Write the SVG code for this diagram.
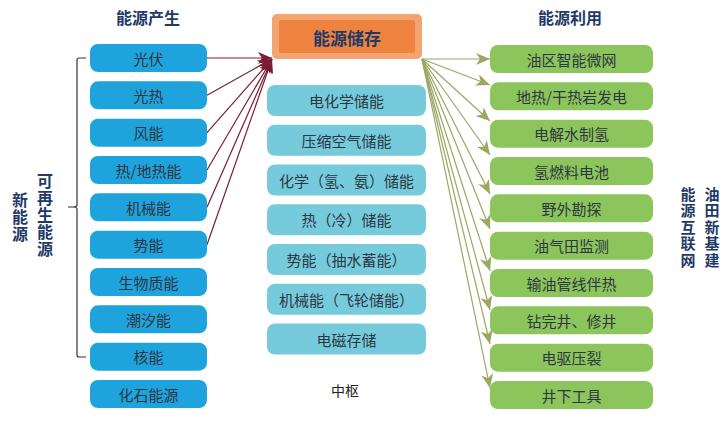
<svg xmlns="http://www.w3.org/2000/svg" width="726" height="421" viewBox="0 0 726 421">
<defs>
<style>
text{font-family:"Noto Sans CJK SC","Noto Sans",sans-serif;}
.t{font-size:15px;fill:#2e3642;text-anchor:middle;dominant-baseline:central;}
.h{font-size:16px;font-weight:bold;fill:#1f3a68;text-anchor:middle;dominant-baseline:central;}
.v{font-size:16px;font-weight:bold;fill:#1f3a68;text-anchor:middle;writing-mode:vertical-rl;letter-spacing:1px;}
.vr{font-size:15px;font-weight:bold;fill:#1f3a68;text-anchor:middle;writing-mode:vertical-rl;letter-spacing:1.5px;}
.blue{fill:#1fa3dd;}
.teal{fill:#75cbdc;}
.green{fill:#8cc55b;}
.lr{stroke:#7a1d36;stroke-width:1.2;fill:none;marker-end:url(#ar);}
.lg{stroke:#9aa862;stroke-width:1.2;fill:none;marker-end:url(#ag);}
</style>
<marker id="ar" markerUnits="userSpaceOnUse" markerWidth="16" markerHeight="12" refX="14" refY="6" orient="auto"><path d="M0,0 L14,6 L0,12 L4,6 z" fill="#7a1d36"/></marker>
<marker id="ag" markerUnits="userSpaceOnUse" markerWidth="16" markerHeight="12" refX="14" refY="6" orient="auto"><path d="M0,0 L14,6 L0,12 L4,6 z" fill="#9aa862"/></marker>
</defs>
<rect width="726" height="421" fill="#ffffff"/>

<text class="h" x="148" y="17">能源产生</text>
<text class="h" x="570" y="17">能源利用</text>

<g id="bracket" fill="none" stroke="#333" stroke-width="1.2">
<path d="M86,58 L79,58 Q77,58 77,60 L77,205 Q77,207 73,207 L68,207 M73,207 Q77,207 77,209 L77,355 Q77,357 79,357 L86,357"/>
</g>
<g id="label-renewable"><text class="v" x="45" y="215">可再生能源</text></g>
<g id="label-new"><text class="v" x="20" y="217">新能源</text></g>
<g id="label-oilfield"><text class="vr" x="712" y="228">油田新基建</text></g>
<g id="label-internet"><text class="vr" x="688" y="228">能源互联网</text></g>

<g id="connectors">
<line class="lr" x1="207" y1="58" x2="272" y2="58"/>
<line class="lr" x1="207" y1="95.3" x2="272" y2="59"/>
<line class="lr" x1="207" y1="132.7" x2="272" y2="59"/>
<line class="lr" x1="207" y1="170" x2="272" y2="59"/>
<line class="lr" x1="207" y1="207.3" x2="272" y2="59"/>
<line class="lr" x1="207" y1="244.7" x2="272" y2="59"/>
<line class="lg" x1="422" y1="59" x2="490" y2="59"/>
<line class="lg" x1="422" y1="59" x2="490" y2="85"/>
<line class="lg" x1="422" y1="59" x2="490" y2="121"/>
<line class="lg" x1="422" y1="59" x2="490" y2="155"/>
<line class="lg" x1="422" y1="59" x2="490" y2="194"/>
<line class="lg" x1="422" y1="59" x2="490" y2="229"/>
<line class="lg" x1="422" y1="59" x2="490" y2="271"/>
<line class="lg" x1="422" y1="59" x2="490" y2="310"/>
<line class="lg" x1="422" y1="59" x2="490" y2="344"/>
<line class="lg" x1="422" y1="59" x2="490" y2="388"/>
</g>

<g id="storage">
<rect x="272" y="14" width="150" height="45" rx="5" fill="#f4a470"/>
<rect x="279" y="20" width="136" height="33" rx="2" fill="#ee833f"/>
<text x="347" y="37" style="font-size:17px;font-weight:bold;fill:#1f3a68;text-anchor:middle;dominant-baseline:central;">能源储存</text>
</g>

<g id="src-1"><rect class="blue" x="90" y="44" width="117" height="28" rx="8"/><text class="t" x="148.5" y="58">光伏</text></g>
<g id="src-2"><rect class="blue" x="90" y="81.3" width="117" height="28" rx="8"/><text class="t" x="148.5" y="95.3">光热</text></g>
<g id="src-3"><rect class="blue" x="90" y="118.7" width="117" height="28" rx="8"/><text class="t" x="148.5" y="132.7">风能</text></g>
<g id="src-4"><rect class="blue" x="90" y="156" width="117" height="28" rx="8"/><text class="t" x="148.5" y="170">热/地热能</text></g>
<g id="src-5"><rect class="blue" x="90" y="193.3" width="117" height="28" rx="8"/><text class="t" x="148.5" y="207.3">机械能</text></g>
<g id="src-6"><rect class="blue" x="90" y="230.7" width="117" height="28" rx="8"/><text class="t" x="148.5" y="244.7">势能</text></g>
<g id="src-7"><rect class="blue" x="90" y="268" width="117" height="28" rx="8"/><text class="t" x="148.5" y="282">生物质能</text></g>
<g id="src-8"><rect class="blue" x="90" y="305.3" width="117" height="28" rx="8"/><text class="t" x="148.5" y="319.3">潮汐能</text></g>
<g id="src-9"><rect class="blue" x="90" y="342.7" width="117" height="28" rx="8"/><text class="t" x="148.5" y="356.7">核能</text></g>
<g id="src-10"><rect class="blue" x="90" y="380" width="117" height="28" rx="8"/><text class="t" x="148.5" y="394">化石能源</text></g>

<g id="sto-1"><rect class="teal" x="267" y="85" width="159" height="31" rx="8"/><text class="t" x="346.5" y="100.5">电化学储能</text></g>
<g id="sto-2"><rect class="teal" x="267" y="124.75" width="159" height="31" rx="8"/><text class="t" x="346.5" y="140.25">压缩空气储能</text></g>
<g id="sto-3"><rect class="teal" x="267" y="164.5" width="159" height="31" rx="8"/><text class="t" x="346.5" y="180">化学（氢、氨）储能</text></g>
<g id="sto-4"><rect class="teal" x="267" y="204.25" width="159" height="31" rx="8"/><text class="t" x="346.5" y="219.75">热（冷）储能</text></g>
<g id="sto-5"><rect class="teal" x="267" y="244" width="159" height="31" rx="8"/><text class="t" x="346.5" y="259.5">势能（抽水蓄能）</text></g>
<g id="sto-6"><rect class="teal" x="267" y="283.75" width="159" height="31" rx="8"/><text class="t" x="346.5" y="299.25">机械能（飞轮储能）</text></g>
<g id="sto-7"><rect class="teal" x="267" y="323.5" width="159" height="31" rx="8"/><text class="t" x="346.5" y="339">电磁存储</text></g>
<g id="hub"><text class="t" x="345" y="390" style="font-size:14px;fill:#222;">中枢</text></g>

<g id="use-1"><rect class="green" x="490" y="45" width="163" height="28" rx="8"/><text class="t" x="571.5" y="59">油区智能微网</text></g>
<g id="use-2"><rect class="green" x="490" y="82.3" width="163" height="28" rx="8"/><text class="t" x="571.5" y="96.3">地热/干热岩发电</text></g>
<g id="use-3"><rect class="green" x="490" y="119.7" width="163" height="28" rx="8"/><text class="t" x="571.5" y="133.7">电解水制氢</text></g>
<g id="use-4"><rect class="green" x="490" y="157" width="163" height="28" rx="8"/><text class="t" x="571.5" y="171">氢燃料电池</text></g>
<g id="use-5"><rect class="green" x="490" y="194.3" width="163" height="28" rx="8"/><text class="t" x="571.5" y="208.3">野外勘探</text></g>
<g id="use-6"><rect class="green" x="490" y="231.7" width="163" height="28" rx="8"/><text class="t" x="571.5" y="245.7">油气田监测</text></g>
<g id="use-7"><rect class="green" x="490" y="269" width="163" height="28" rx="8"/><text class="t" x="571.5" y="283">输油管线伴热</text></g>
<g id="use-8"><rect class="green" x="490" y="306.3" width="163" height="28" rx="8"/><text class="t" x="571.5" y="320.3">钻完井、修井</text></g>
<g id="use-9"><rect class="green" x="490" y="343.7" width="163" height="28" rx="8"/><text class="t" x="571.5" y="357.7">电驱压裂</text></g>
<g id="use-10"><rect class="green" x="490" y="381" width="163" height="28" rx="8"/><text class="t" x="571.5" y="395">井下工具</text></g>
</svg>
